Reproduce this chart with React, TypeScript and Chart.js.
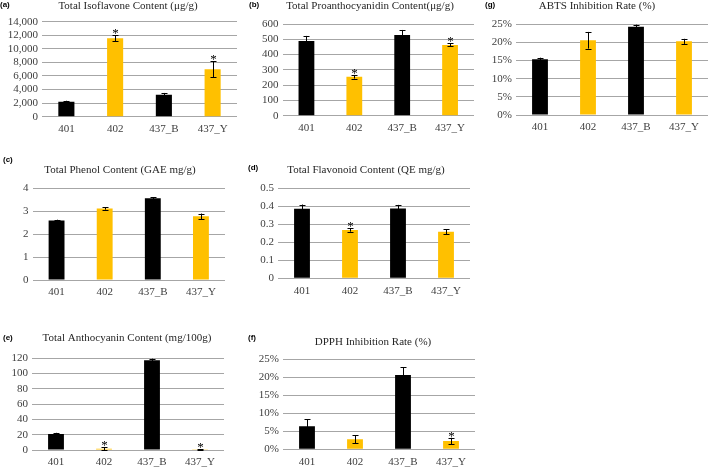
import React, { useEffect, useRef } from "react";
import { Chart, registerables } from "chart.js";

Chart.register(...registerables);

// Shared categories and bar colours (black = 401/437_B, gold = 402/437_Y)
const categories = ["401", "402", "437_B", "437_Y"];
const barColors = ["#000000", "#FFC000", "#000000", "#FFC000"];

// (a) Total isoflavone content (µg/g)
const isoflavoneMean = [2200, 11550, 3250, 7000];
const isoflavoneErr = [150, 450, 250, 1150];
const isoflavoneSig = [false, true, false, true];

// (b) Total proanthocyanidin content (µg/g)
const proanthocyanidinMean = [489, 255, 528, 463];
const proanthocyanidinErr = [33, 12, 33, 10];
const proanthocyanidinSig = [false, true, false, true];

// (g) ABTS inhibition rate (%)
const abtsMean = [15.4, 20.6, 24.3, 20.3];
const abtsErr = [0.4, 2.3, 0.6, 0.7];
const abtsSig = [false, false, false, false];

// (c) Total phenol content (GAE mg/g)
const phenolMean = [2.6, 3.12, 3.57, 2.78];
const phenolErr = [0.03, 0.05, 0.05, 0.12];
const phenolSig = [false, false, false, false];

// (d) Total flavonoid content (QE mg/g)
const flavonoidMean = [0.387, 0.269, 0.388, 0.259];
const flavonoidErr = [0.023, 0.01, 0.02, 0.013];
const flavonoidSig = [false, true, false, false];

// (e) Total anthocyanin content (mg/100g)
const anthocyaninMean = [21, 1.6, 117.3, 0.4];
const anthocyaninErr = [1.5, 2.4, 2.2, 0.3];
const anthocyaninSig = [false, true, false, true];

// (f) DPPH inhibition rate (%)
const dpphMean = [6.4, 2.8, 20.6, 2.3];
const dpphErr = [1.9, 1.1, 2.1, 0.9];
const dpphSig = [false, false, false, true];

// Axis ranges
const isoflavoneAxis = { max: 14000, step: 2000 };
const proanthocyanidinAxis = { max: 600, step: 100 };
const percentAxis = { max: 25, step: 5 };
const phenolAxis = { max: 4, step: 1 };
const flavonoidAxis = { max: 0.5, step: 0.1 };
const anthocyaninAxis = { max: 120, step: 20 };

type Panel = {
  letter: string;
  title: string;
  mean: number[];
  err: number[];
  sig: boolean[];
  axis: { max: number; step: number };
  fmt: (v: number) => string;
  box: { L: number; T: number; W: number; H: number };
  plot: { x0: number; x1: number; yTop: number; yBot: number };
  titlePos: { x: number; y: number };
  letterPos: { x: number; y: number };
};

const commaFmt = (v: number) => v.toLocaleString("en-US");
const pctFmt = (v: number) => `${Math.round(v)}%`;
const plainFmt = (v: number) => `${Math.round(v * 1000) / 1000}`;

const panels: Panel[] = [
  {
    letter: "(a)", title: "Total Isoflavone Content (\u03bcg/g)",
    mean: isoflavoneMean, err: isoflavoneErr, sig: isoflavoneSig, axis: isoflavoneAxis, fmt: commaFmt,
    box: { L: 0, T: 0, W: 240, H: 140 }, plot: { x0: 42, x1: 237, yTop: 21.7, yBot: 116.7 },
    titlePos: { x: 128, y: 6 }, letterPos: { x: 0, y: 5 },
  },
  {
    letter: "(b)", title: "Total Proanthocyanidin Content(\u03bcg/g)",
    mean: proanthocyanidinMean, err: proanthocyanidinErr, sig: proanthocyanidinSig, axis: proanthocyanidinAxis, fmt: plainFmt,
    box: { L: 236, T: 0, W: 240, H: 140 }, plot: { x0: 282.5, x1: 474, yTop: 24, yBot: 115.7 },
    titlePos: { x: 370, y: 6 }, letterPos: { x: 249, y: 5 },
  },
  {
    letter: "(g)", title: "ABTS Inhibition Rate (%)",
    mean: abtsMean, err: abtsErr, sig: abtsSig, axis: percentAxis, fmt: pctFmt,
    box: { L: 470, T: 0, W: 239, H: 140 }, plot: { x0: 516, x1: 708, yTop: 24.3, yBot: 115 },
    titlePos: { x: 597, y: 6 }, letterPos: { x: 485, y: 5 },
  },
  {
    letter: "(c)", title: "Total Phenol Content (GAE mg/g)",
    mean: phenolMean, err: phenolErr, sig: phenolSig, axis: phenolAxis, fmt: plainFmt,
    box: { L: 0, T: 150, W: 236, H: 155 }, plot: { x0: 32.5, x1: 225, yTop: 188.3, yBot: 280 },
    titlePos: { x: 120, y: 170 }, letterPos: { x: 3, y: 160 },
  },
  {
    letter: "(d)", title: "Total Flavonoid Content (QE mg/g)",
    mean: flavonoidMean, err: flavonoidErr, sig: flavonoidSig, axis: flavonoidAxis, fmt: plainFmt,
    box: { L: 236, T: 150, W: 240, H: 155 }, plot: { x0: 278, x1: 470, yTop: 188.3, yBot: 278.3 },
    titlePos: { x: 366, y: 170 }, letterPos: { x: 248, y: 168 },
  },
  {
    letter: "(e)", title: "Total Anthocyanin Content (mg/100g)",
    mean: anthocyaninMean, err: anthocyaninErr, sig: anthocyaninSig, axis: anthocyaninAxis, fmt: plainFmt,
    box: { L: 0, T: 310, W: 236, H: 158 }, plot: { x0: 32, x1: 224, yTop: 358.3, yBot: 450 },
    titlePos: { x: 127, y: 338 }, letterPos: { x: 3, y: 338 },
  },
  {
    letter: "(f)", title: "DPPH Inhibition Rate (%)",
    mean: dpphMean, err: dpphErr, sig: dpphSig, axis: percentAxis, fmt: pctFmt,
    box: { L: 236, T: 310, W: 240, H: 158 }, plot: { x0: 283, x1: 475, yTop: 359, yBot: 449.3 },
    titlePos: { x: 373, y: 341.7 }, letterPos: { x: 248, y: 338 },
  },
];

const SERIF = "'Liberation Serif', 'Times New Roman', serif";
const SANS = "'Liberation Sans', Arial, sans-serif";
const TEXT = "#404040";
const GRID = "#a6a6a6";

function PanelChart({ p }: { p: Panel }) {
  const ref = useRef<HTMLCanvasElement | null>(null);

  useEffect(() => {
    if (!ref.current) return;
    const { L, T, W, H } = p.box;
    const { x0, x1, yTop, yBot } = p.plot;

    // Error bars, significance asterisks, panel title and letter
    const marks = {
      id: "panelMarks",
      afterDatasetsDraw(chart: any) {
        const { ctx } = chart;
        const y = chart.scales.y;
        const meta = chart.getDatasetMeta(0);
        ctx.save();
        ctx.strokeStyle = "#000";
        ctx.lineWidth = 1;
        meta.data.forEach((bar: any, i: number) => {
          const x = Math.round(bar.x) + 0.5;
          const hi = y.getPixelForValue(p.mean[i] + p.err[i]);
          const lo = y.getPixelForValue(Math.max(0, p.mean[i] - p.err[i]));
          ctx.beginPath();
          ctx.moveTo(x, hi);
          ctx.lineTo(x, lo);
          ctx.moveTo(x - 3, Math.round(hi) + 0.5);
          ctx.lineTo(x + 3, Math.round(hi) + 0.5);
          ctx.moveTo(x - 3, Math.round(lo) + 0.5);
          ctx.lineTo(x + 3, Math.round(lo) + 0.5);
          ctx.stroke();
          if (p.sig[i]) {
            ctx.fillStyle = "#000";
            ctx.font = `13px ${SERIF}`;
            ctx.textAlign = "center";
            ctx.textBaseline = "alphabetic";
            ctx.fillText("*", x, hi + 2);
          }
        });
        ctx.restore();
      },
      afterDraw(chart: any) {
        const { ctx } = chart;
        ctx.save();
        ctx.fillStyle = "#262626";
        ctx.font = `11px ${SERIF}`;
        ctx.textAlign = "center";
        ctx.textBaseline = "middle";
        ctx.fillText(p.title, p.titlePos.x - L, p.titlePos.y - T);
        ctx.fillStyle = "#000";
        ctx.font = `bold 8px ${SANS}`;
        ctx.textAlign = "left";
        ctx.fillText(p.letter, p.letterPos.x - L, p.letterPos.y - T);
        ctx.restore();
      },
    };

    const chart = new Chart(ref.current, {
      type: "bar",
      data: {
        labels: categories,
        datasets: [
          {
            data: p.mean,
            backgroundColor: barColors,
            borderWidth: 0,
            barPercentage: 0.33,
            categoryPercentage: 1,
          },
        ],
      },
      options: {
        responsive: false,
        animation: false,
        layout: { padding: { top: yTop - T, right: L + W - x1, left: 0, bottom: 0 } },
        plugins: {
          legend: { display: false },
          tooltip: { enabled: false },
          title: { display: false },
        },
        scales: {
          x: {
            grid: { display: false, drawTicks: false },
            border: { display: false },
            ticks: {
              color: TEXT,
              font: { family: SERIF, size: 11 },
              padding: 6,
              maxRotation: 0,
              autoSkip: false,
            },
            afterFit: (s: any) => {
              s.height = T + H - yBot;
            },
          },
          y: {
            min: 0,
            max: p.axis.max,
            border: { display: false },
            grid: { color: GRID, lineWidth: 1, drawTicks: false },
            ticks: {
              stepSize: p.axis.step,
              autoSkip: false,
              color: TEXT,
              font: { family: SERIF, size: 11 },
              padding: 4,
              callback: (v: any) => p.fmt(Number(v)),
            },
            afterFit: (s: any) => {
              s.width = x0 - L;
            },
          },
        },
      },
      plugins: [marks],
    });
    return () => chart.destroy();
  }, [p]);

  const { L, T, W, H } = p.box;
  return (
    <canvas
      ref={ref}
      width={W}
      height={H}
      style={{ position: "absolute", left: L, top: T, width: W, height: H }}
    />
  );
}

export default function App() {
  return (
    <div
      style={{
        position: "absolute",
        left: 0,
        top: 0,
        width: 709,
        height: 468,
        background: "#ffffff",
        overflow: "hidden",
      }}
    >
      {panels.map((p) => (
        <PanelChart key={p.letter} p={p} />
      ))}
    </div>
  );
}
